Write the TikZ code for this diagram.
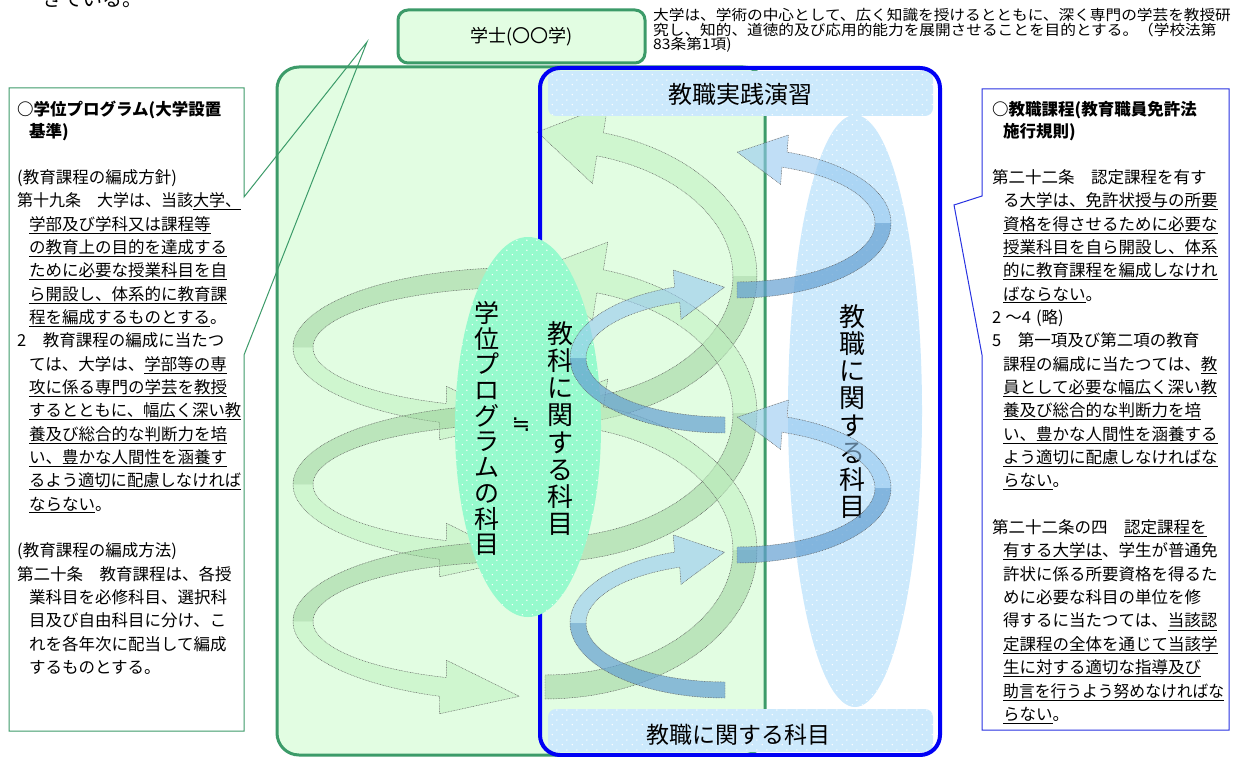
\documentclass[tikz,border=0pt]{standalone}
\usepackage{fontspec}
\setmainfont{Noto Sans CJK JP}
\newfontfamily\symfont{DejaVu Sans}
\usepackage{graphicx}
\usetikzlibrary{patterns}
\pgfdeclarepatternformonly{wdots}{\pgfqpoint{0pt}{0pt}}{\pgfqpoint{10pt}{10pt}}{\pgfqpoint{10pt}{10pt}}{%
  \pgfpathcircle{\pgfqpoint{2.5pt}{2.5pt}}{0.8pt}%
  \pgfpathcircle{\pgfqpoint{7.5pt}{7.5pt}}{0.8pt}%
  \pgfusepath{fill}}
\definecolor{gbord}{RGB}{60,155,105}
\definecolor{gfill}{RGB}{226,253,226}
\definecolor{bband}{RGB}{204,233,252}
\definecolor{mint}{RGB}{150,250,205}
\definecolor{bbord}{RGB}{0,0,245}
\definecolor{cbord}{RGB}{40,50,225}
\definecolor{gdk}{RGB}{140,200,140}
\definecolor{glt}{RGB}{190,240,190}
\definecolor{bdk}{RGB}{100,160,210}
\definecolor{blt}{RGB}{150,200,240}
\newlength\lw
\newcommand\uln[1]{\underline{#1}}
\newcommand\bodyfont{\fontsize{16.5}{20}\selectfont}
\newcommand\fitline[2]{\settowidth{\lw}{#2}\ifdim\lw>#1pt\relax\resizebox{#1pt}{\height}{#2}\else#2\fi}
% ribbon: #1 dark style, #2 light style, #3 cx, #4 cy, #5 rx, #6 ry, #7 t1, #8 tm, #9 t2
\newcommand\ribbon[9]{%
 \pgfmathsetmacro\rsg{(#9>#8)?1:(-1)}%
 \pgfmathsetmacro\ex{#3+(#5)*cos(#9)}%
 \pgfmathsetmacro\ey{#4+(#6)*sin(#9)}%
 \pgfmathsetmacro\tx{0-(#5/100)*sin(#9)*(\rsg)}%
 \pgfmathsetmacro\ty{(#6/100)*cos(#9)*(\rsg)}%
 \pgfmathsetmacro\tn{sqrt((\tx)*(\tx)+(\ty)*(\ty))}%
 \pgfmathsetmacro\ux{(\tx)/(\tn)}%
 \pgfmathsetmacro\uy{(\ty)/(\tn)}%
 \pgfmathsetmacro\nd{((0-(\uy))*cos(#9)+(\ux)*sin(#9))>0?1:(-1)}%
 \pgfmathsetmacro\ox{\ex-(\nd)*(\ahh)*(\uy)}%
 \pgfmathsetmacro\oy{\ey+(\nd)*(\ahh)*(\ux)}%
 \pgfmathsetmacro\ix{\ex+(\nd)*(\ahh)*(\uy)}%
 \pgfmathsetmacro\iy{\ey-(\nd)*(\ahh)*(\ux)}%
 \pgfmathsetmacro\px{\ex+(\ahl)*(\ux)}%
 \pgfmathsetmacro\py{\ey+(\ahl)*(\uy)}%
 \fill[#1] plot[domain=#7:#8,samples=36] ({#3+(#5+\rw)*cos(\x)},{#4+(#6+\rw)*sin(\x)})
   -- plot[domain=#8:#7,samples=36] ({#3+(#5-\rw)*cos(\x)},{#4+(#6-\rw)*sin(\x)}) -- cycle;
 \fill[#2] plot[domain=#8:#9,samples=36] ({#3+(#5+\rw)*cos(\x)},{#4+(#6+\rw)*sin(\x)})
   -- (\ox,\oy) -- (\px,\py) -- (\ix,\iy)
   -- plot[domain=#9:#8,samples=36] ({#3+(#5-\rw)*cos(\x)},{#4+(#6-\rw)*sin(\x)}) -- cycle;
 \draw[ribline] plot[domain=#7:#9,samples=60] ({#3+(#5+\rw)*cos(\x)},{#4+(#6+\rw)*sin(\x)})
   -- (\ox,\oy) -- (\px,\py) -- (\ix,\iy)
   -- plot[domain=#9:#7,samples=60] ({#3+(#5-\rw)*cos(\x)},{#4+(#6-\rw)*sin(\x)}) -- cycle;
}
\begin{document}
\begin{tikzpicture}[x=1pt,y=-1pt,
  ribline/.style={draw=black!65, line width=0.45pt, dash pattern=on 0.8pt off 0.8pt},
  gdark/.style={fill=gdk, fill opacity=0.45},
  glight/.style={fill=glt, fill opacity=0.5},
  bdark/.style={fill=bdk, fill opacity=0.7},
  blight/.style={fill=blt, fill opacity=0.6},
  dotfill/.style={postaction={pattern=wdots, pattern color=white}},
  lbl/.style={inner sep=0pt, text=black},
  vtext/.style={lbl, align=center, font=\fontsize{26}{27.1}\selectfont},
]
\useasboundingbox (0,0) rectangle (1236,757);
\fill[white] (0,0) rectangle (1236,757);

% cut-off text at the very top
\node[anchor=base west, lbl, font=\fontsize{20}{20}\selectfont] (prev) at (42,7) {きている。};

% degree box
\node[draw=gbord, line width=3pt, fill=gfill, rounded corners=10pt, minimum width=247pt,
      minimum height=53pt, font=\fontsize{18}{18}\selectfont] (gakushi) at (521.5,36.5) {学士(〇〇学)};

% top right quotation
\node[anchor=base west, lbl, font=\fontsize{14.5}{14.5}\selectfont] (t1) at (653,21)
  {\scalebox{1.08}[1]{大学は、学術の中心として、広く知識を授けるとともに、深く専門の学芸を教授研}};
\node[anchor=base west, lbl, font=\fontsize{14.5}{14.5}\selectfont] (t2) at (653,35.5)
  {\scalebox{1.08}[1]{究し、知的、道徳的及び応用的能力を展開させることを目的とする。（学校法第}};
\node[anchor=base west, lbl, font=\fontsize{14.5}{14.5}\selectfont] (t3) at (653,50)
  {\scalebox{1.08}[1]{83条第1項)}};

% large green area
\draw[gbord, line width=3pt, fill=gfill, rounded corners=22pt] (277,67) rectangle (765,755);

% left callout
\draw[gbord, line width=1pt] (9,88) -- (244,88) -- (244,197) -- (367,42) -- (244,355) -- (244,731) -- (9,731) -- cycle;

% green spiral ribbons
\def\rw{10}\def\ahh{27}\def\ahl{77}
\ribbon{gdark}{glight}{520}{347.5}{217}{70}{275}{180}{110.8}
\ribbon{gdark}{glight}{520}{484.5}{217}{70}{275}{180}{110.8}
\ribbon{gdark}{glight}{520}{621.5}{217}{70}{275}{180}{110.8}
\def\rw{12}\def\ahh{40}\def\ahl{64}
\ribbon{gdark}{glight}{545}{276}{200}{137}{90}{0}{-74}
\ribbon{gdark}{glight}{545}{413}{200}{137}{90}{0}{-74}
\ribbon{gdark}{glight}{545}{550}{200}{137}{90}{0}{-74}

% bands
\fill[bband, dotfill, rounded corners=8pt] (548,71) rectangle (933,116);
\fill[bband, dotfill, rounded corners=8pt] (548,709) rectangle (933,752);

% blue frame
\draw[bbord, line width=4pt, rounded corners=20pt] (540,68) rectangle (940,755);

% ellipses
\fill[mint, dotfill] (528,427) ellipse [x radius=73pt, y radius=190pt];
\fill[bband, dotfill] (855,411) ellipse [x radius=67pt, y radius=296pt];

\node[vtext, font=\fontsize{25}{25.7}\selectfont] (gakui) at (487,428.5) {学\\位\\プ\\ロ\\グ\\ラ\\ム\\の\\科\\目};
\node[lbl, font=\symfont\fontsize{22}{22}\selectfont] (approx) at (521,425) {≒};
\node[vtext] (kyoka) at (560,428.5) {教\\科\\に\\関\\す\\る\\科\\目};
\node[vtext] (kyoshoku) at (852,411.5) {教\\職\\に\\関\\す\\る\\科\\目};

% blue spiral ribbons
\def\rw{8}\def\ahh{25}\def\ahl{48}
\ribbon{bdark}{blight}{725}{358}{147}{67}{90}{180}{251}
\ribbon{bdark}{blight}{725}{623}{147}{67}{90}{180}{251}
\ribbon{bdark}{blight}{737}{223}{146}{67}{90}{0}{-71}
\ribbon{bdark}{blight}{737}{488}{146}{67}{90}{0}{-71}

% band labels
\node[lbl, font=\fontsize{24}{24}\selectfont] (jissen) at (740,94) {教職実践演習};
\node[lbl, font=\fontsize{23}{23}\selectfont] (kamoku) at (738,735) {教職に関する科目};

% right callout
\draw[cbord, line width=1pt] (982,89) -- (1229,89) -- (1229,730) -- (982,730) -- (982,355) -- (954,205) -- (982,196) -- cycle;

% left text
\node[anchor=base west, lbl, font=\bfseries\bodyfont] (LH1) at (17,116) {○学位プログラム(大学設置};
\node[anchor=base west, lbl, font=\bfseries\bodyfont] (LH2) at (29,138) {基準)};
\foreach \n/\ind/\txt in {
 0/0/{(教育課程の編成方針)},
 1/0/{第十九条　大学は、当該\uln{大学、}},
 2/1/{\uln{学部及び学科又は課程等}},
 3/1/{\uln{の教育上の目的を達成する}},
 4/1/{\uln{ために必要な授業科目を自}},
 5/1/{\uln{ら開設し、体系的に教育課}},
 6/1/{\uln{程を編成するものとする}。},
 7/0/{2　教育課程の編成に当たつ},
 8/1/{ては、大学は、\uln{学部等の専}},
 9/1/{\uln{攻に係る専門の学芸を教授}},
 10/1/{\uln{するとともに、幅広く深い教}},
 11/1/{\uln{養及び総合的な判断力を培}},
 12/1/{\uln{い、豊かな人間性を涵養す}},
 13/1/{\uln{るよう適切に配慮しなければ}},
 14/1/{\uln{ならない}。},
 16/0/{(教育課程の編成方法)},
 17/0/{第二十条　教育課程は、各授},
 18/1/{業科目を必修科目、選択科},
 19/1/{目及び自由科目に分け、こ},
 20/1/{れを各年次に配当して編成},
 21/1/{するものとする。}
}{
 \pgfmathsetmacro\sx{17+12*\ind}
 \pgfmathsetmacro\av{241-\sx}
 \node[anchor=base west, lbl, font=\bodyfont] (L\n) at (\sx,{183.3+23.35*\n}) {\fitline{\av}{\txt}};
}

% right text
\node[anchor=base west, lbl, font=\bfseries\bodyfont] (RH1) at (992,116) {○教職課程(教育職員免許法};
\node[anchor=base west, lbl, font=\bfseries\bodyfont] (RH2) at (1003,138) {施行規則)};
\foreach \n/\ind/\txt in {
 0/0/{第二十二条　認定課程を有す},
 1/1/{る\uln{大学は、免許状授与の所要}},
 2/1/{\uln{資格を得させるために必要な}},
 3/1/{\uln{授業科目を自ら開設し、体系}},
 4/1/{\uln{的に教育課程を編成しなけれ}},
 5/1/{\uln{ばならない}。},
 6/0/{2\hspace{4pt}～4\hspace{5pt}(略)},
 7/0/{5　第一項及び第二項の教育},
 8/1/{課程の編成に当たつては、\uln{教}},
 9/1/{\uln{員として必要な幅広く深い教}},
 10/1/{\uln{養及び総合的な判断力を培}},
 11/1/{\uln{い、豊かな人間性を涵養する}},
 12/1/{\uln{よう適切に配慮しなければな}},
 13/1/{\uln{らない}。},
 15/0/{第二十二条の四　\uln{認定課程を}},
 16/1/{\uln{有する大学は}、学生が普通免},
 17/1/{許状に係る所要資格を得るた},
 18/1/{めに必要な科目の単位を修},
 19/1/{得するに当たつては、\uln{当該認}},
 20/1/{\uln{定課程の全体を通じて当該学}},
 21/1/{\uln{生に対する適切な指導及び}},
 22/1/{\uln{助言を行うよう努めなければな}},
 23/1/{\uln{らない}。}
}{
 \pgfmathsetmacro\sx{992+11*\ind}
 \pgfmathsetmacro\av{1224-\sx}
 \node[anchor=base west, lbl, font=\bodyfont] (R\n) at (\sx,{183.3+23.35*\n}) {\fitline{\av}{\txt}};
}
\end{tikzpicture}
\end{document}
